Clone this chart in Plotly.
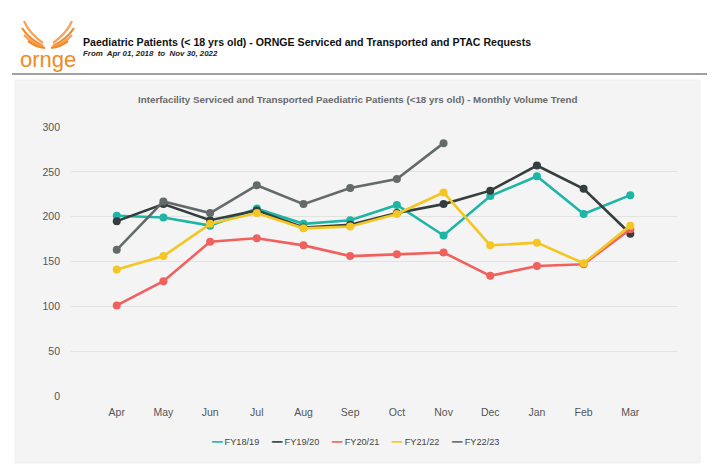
import plotly.graph_objects as go

months = ["Apr", "May", "Jun", "Jul", "Aug", "Sep", "Oct", "Nov", "Dec", "Jan", "Feb", "Mar"]
fy18_19 = [201, 199, 190, 209, 192, 196, 213, 179, 223, 245, 203, 224]
fy19_20 = [195, 214, 196, 207, 188, 191, 204, 214, 229, 257, 231, 181]
fy20_21 = [101, 128, 172, 176, 168, 156, 158, 160, 134, 145, 147, 186]
fy21_22 = [141, 156, 192, 204, 187, 189, 203, 227, 168, 171, 148, 190]
fy22_23 = [163, 217, 204, 235, 214, 232, 242, 282]
series_names = ["FY18/19", "FY19/20", "FY20/21", "FY21/22", "FY22/23"]
series_values = [fy18_19, fy19_20, fy20_21, fy21_22, fy22_23]
colors = ["#1db5a6", "#353e3e", "#f0615d", "#f3c623", "#646a6a"]
y_ticks = [0, 50, 100, 150, 200, 250, 300]

W, H = 720, 473
L, R, T, B = 71, 677, 127, 396
FONT = "Liberation Sans Narrow, Arial Narrow, Liberation Sans, Arial, sans-serif"


def px(x):
    return (x - L) / (R - L)


def py(y):
    return (B - y) / (B - T)


fig = go.Figure()
xs = list(range(len(months)))
for name, vals, col in zip(series_names, series_values, colors):
    fig.add_trace(go.Scatter(
        x=xs[:len(vals)], y=vals, name=name, mode="lines+markers",
        line=dict(color=col, width=2.6),
        marker=dict(color=col, size=8),
        showlegend=False,
    ))

shapes = []
# gray chart box
shapes.append(dict(type="rect", xref="paper", yref="paper",
                   x0=px(15), x1=px(700), y0=py(80), y1=py(463),
                   fillcolor="#f4f4f4", line=dict(color="#eeeeee", width=1), layer="below"))
# header rule
shapes.append(dict(type="line", xref="paper", yref="paper",
                   x0=px(12), x1=px(707), y0=py(74), y1=py(74),
                   line=dict(color="#444444", width=1.2)))

# logo wings
def path(points):
    (x0, y0), (cx, cy), (x1, y1) = points
    return "M {} {} Q {} {} {} {}".format(px(x0), py(y0), px(cx), py(cy), px(x1), py(y1))

left_wing = [
    [(24, 21), (29, 33), (43, 43)],
    [(22, 28), (29, 39), (43, 46)],
    [(24, 35), (31, 43), (44, 47)],
    [(28, 41), (36, 47), (45, 48)],
]
for i, pts in enumerate(left_wing):
    col = "#f5a25a" if i % 2 == 0 else "#f08a2c"
    shapes.append(dict(type="path", xref="paper", yref="paper", path=path(pts),
                       line=dict(color=col, width=2.2)))
    mirrored = [(96 - x, y) for (x, y) in pts]
    shapes.append(dict(type="path", xref="paper", yref="paper", path=path(mirrored),
                       line=dict(color=col, width=2.2)))

annotations = [
    dict(xref="paper", yref="paper", x=px(48), y=py(59), text="ornge", showarrow=False,
         font=dict(family="Liberation Sans, Arial, sans-serif", size=22, color="#f08a24"),
         xanchor="center", yanchor="middle"),
    dict(xref="paper", yref="paper", x=px(81), y=py(42),
         text="<b>Paediatric Patients (< 18 yrs old) - ORNGE Serviced and Transported and PTAC Requests</b>",
         showarrow=False, xanchor="left", yanchor="middle",
         font=dict(family=FONT, size=10.6, color="#111111")),
    dict(xref="paper", yref="paper", x=px(81), y=py(54),
         text="<b><i>From  Apr 01, 2018  to  Nov 30, 2022</i></b>",
         showarrow=False, xanchor="left", yanchor="middle",
         font=dict(family=FONT, size=7.9, color="#222222")),
    dict(xref="paper", yref="paper", x=px(357), y=py(99),
         text="<b>Interfacility Serviced and Transported Paediatric Patients (<18 yrs old) - Monthly Volume Trend</b>",
         showarrow=False, xanchor="center", yanchor="middle",
         font=dict(family=FONT, size=9.8, color="#6a6a6a")),
]

legend_parts = []
for name, col in zip(series_names, colors):
    legend_parts.append('<span style="color:{}">━━</span> {}'.format(col, name))
annotations.append(dict(xref="paper", yref="paper", x=px(355), y=py(442),
                        text="     ".join(legend_parts), showarrow=False,
                        xanchor="center", yanchor="middle",
                        font=dict(family=FONT, size=9.2, color="#444444")))

fig.update_layout(
    width=W, height=H,
    margin=dict(l=L, r=W - R, t=T, b=H - B, pad=0),
    paper_bgcolor="white", plot_bgcolor="#f4f4f4",
    shapes=shapes, annotations=annotations,
    showlegend=False,
    xaxis=dict(range=[-0.98, 12.0], tickmode="array", tickvals=xs, ticktext=months,
               showgrid=False, zeroline=False, showline=False, ticks="",
               ticklabelstandoff=8,
               tickfont=dict(family=FONT, size=10.5, color="#555555")),
    yaxis=dict(range=[0, 300], tickmode="array", tickvals=y_ticks,
               showgrid=True, gridcolor="#e2e2e2", gridwidth=1.2, zeroline=False,
               showline=False, ticks="", ticklabelstandoff=10,
               tickfont=dict(family=FONT, size=10.5, color="#555555")),
)

fig.write_html("out.html")
